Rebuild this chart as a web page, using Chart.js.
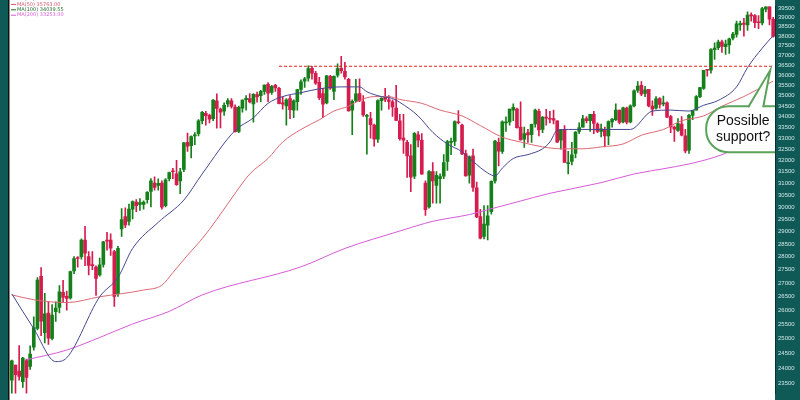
<!DOCTYPE html>
<html>
<head>
<meta charset="utf-8">
<script src="https://cdn.jsdelivr.net/npm/chart.js@4.4.1/dist/chart.umd.min.js"></script>
<style>
  html, body { margin: 0; padding: 0; background: #fff; }
  #wrap { width: 800px; height: 400px; position: relative; }
</style>
</head>
<body>
<div id="wrap"><canvas id="mainChart"></canvas></div>
<script>
// weekly candles (first week starting 2020-04-13)
const firstWeek = '2020-04-13';

const opens = [
  23600,24100,23900,23550,24250,24050,24700,25350,27250,25200,
  25900,25000,25950,26100,26650,26500,26450,27450,27950,28000,
  28650,28000,27700,27600,27300,27700,28650,28650,28200,26600,
  29100,29600,29400,29900,30200,30100,30100,30300,30650,31000,
  30900,31000,30050,31200,31500,31400,31100,31600,32800,32650,
  33100,33200,33800,34150,34050,33900,34750,34350,34250,34600,
  34750,34450,33300,34400,34800,34850,34600,35050,35000,35200,
  35550,35150,35500,35350,34650,34500,34850,34300,34700,35300,
  35700,35850,36350,36100,35650,35100,34650,35950,35200,36000,
  36350,36200,35800,34300,34750,35100,34700,34000,33900,33600,
  32950,34750,34900,34800,34700,34400,33800,33000,32800,32200,
  31300,33150,32900,31000,30000,31500,30900,31200,31300,31950,
  32800,32850,33750,33600,32300,31350,32200,30800,29600,28800,
  29250,29800,31100,32800,32400,33700,33750,34300,34350,33500,
  32950,33250,33150,33650,34250,33400,33950,33900,33900,33800,
  32900,33400,31850,31950,32300,33300,33500,33900,33800,34100,
  33650,33300,33400,33100,33750,33850,34300,33750,34400,33750,
  34500,35250,35500,35100,35300,34500,34400,34850,34600,34650,
  34000,33500,33350,33650,33100,32450,34050,34300,34950,35350,
  36250,36250,37300,37400,37700,37450,37550,37900,38100,38600,
  38700,38600,39100,39100,38750,38700,39450,39800,38900
];
const highs = [
  24265,24100,24760,24360,24300,24750,25760,27200,27580,26610,
  26300,26200,26300,26900,27100,26700,27450,28000,28000,28700,
  29200,28200,28200,27650,27950,28600,28960,28900,28250,28400,
  29930,29960,30120,30250,30300,30350,30250,30640,31200,31270,
  31190,31100,31200,31480,31640,32000,31650,32800,33230,33100,
  33250,33850,34250,34250,34120,34810,35090,34400,34650,34850,
  34850,34550,34500,34800,35000,35100,35100,35170,35250,35530,
  35630,35500,35550,35400,34950,34850,35000,34800,35300,35770,
  35900,36470,36450,36200,35900,35350,36000,36000,35970,36570,
  36950,36650,35850,34800,35800,35820,35000,34100,34200,33650,
  34800,34900,35350,35000,34800,35500,34100,34100,32900,32700,
  33250,33300,33200,31100,31550,31900,31500,31400,32250,32900,
  33000,33800,34280,33650,32450,32200,32500,31050,29900,30050,
  30050,31100,32900,33000,33800,33990,34350,34600,34400,34700,
  33500,33400,33650,34350,34350,34000,34340,34250,34300,33800,
  33400,33570,32400,32800,33300,33700,34050,34000,34100,34250,
  33700,33650,33500,33800,33900,34600,34300,34450,34450,34550,
  35280,35680,35680,35450,35300,34750,34950,34900,34980,34700,
  34050,33550,33900,34000,33400,34100,34300,35000,35400,36250,
  36300,37350,37650,37800,37800,37800,37900,38200,38800,38800,
  38950,39300,39250,39150,39100,39550,39900,39800,39000
];
const lows = [
  23100,23000,23600,23360,22790,23950,24600,25300,25100,24850,
  24800,24950,25600,25900,26300,26000,26400,27350,27600,27900,
  27650,27300,27500,26540,27250,27600,28250,28050,26140,26500,
  28800,29150,29250,29500,29800,29850,29900,30150,30000,30700,
  30700,29900,30000,31100,31200,30900,30550,31500,32400,32100,
  32700,33100,33650,33600,33700,33800,33450,33470,34050,34450,
  34400,33270,33250,34200,34300,34650,33740,34680,34700,35050,
  34700,35050,35200,34600,34350,33600,33900,33950,34300,35050,
  35400,35700,35800,35550,34800,33950,34600,35300,34800,35900,
  36100,35800,34250,33150,34700,34700,34000,32270,33000,32630,
  32800,34300,34700,34350,34000,33800,32900,32300,31250,30640,
  31200,32600,31390,29650,29950,30150,30150,30150,31200,31550,
  32250,32650,33650,32250,31300,31000,30650,29550,28700,28700,
  28660,29700,31000,31750,32300,33300,33600,33800,33450,32900,
  32570,32800,32800,33500,33100,33250,33600,33700,33650,32800,
  32500,31900,31400,31800,32100,33200,33500,33700,33300,33200,
  33250,33050,32600,32700,33500,33800,33650,33700,33650,33700,
  34450,35150,35000,34950,34450,34050,34350,34400,34500,33950,
  33250,32850,33300,33100,32330,32300,33850,34300,34900,35300,
  35950,36100,36800,37300,37150,37050,37100,37800,37950,38300,
  38000,38300,38800,38450,38400,38600,39300,38600,37950
];
const closes = [
  24242,23775,23724,24331,23685,24465,25383,27111,25605,25871,
  25016,25827,26075,26672,26470,26428,27433,27931,27930,28654,
  28133,27666,27657,27174,27683,28586,28606,28335,26502,28323,
  29479,29263,29910,30218,30046,30179,30199,30606,31098,30814,
  30997,29983,31148,31458,31494,30932,31496,32779,32628,33073,
  33153,33801,34200,34043,33875,34778,34382,34208,34529,34756,
  34480,33290,34433,34786,34870,34688,35062,34935,35209,35515,
  35120,35456,35369,34608,34584,34798,34326,34746,35295,35677,
  35820,36328,36100,35602,34899,34580,35971,35365,35951,36338,
  36232,35912,34265,34725,35089,34738,34079,34059,33615,32944,
  34755,34861,34818,34721,34451,33811,32977,32899,32197,31262,
  33213,32900,31393,29888,31500,31097,31338,31288,31899,32845,
  32803,33761,33706,32283,31318,32152,30822,29590,28725,29297,
  29635,31083,32861,32403,33748,33746,34347,34430,33477,32920,
  33204,33147,33631,34303,33375,33978,33926,33870,33827,32817,
  33391,31910,31862,32238,33274,33485,33886,33809,34098,33674,
  33300,33427,33093,33763,33877,34299,33727,34408,33735,34509,
  35228,35459,35066,35281,34501,34347,34838,34577,34618,33964,
  33508,33408,33670,33127,32418,34061,34283,34947,35390,36246,
  36248,37306,37385,37690,37466,37593,37863,38109,38654,38672,
  38628,39131,39087,38723,38715,39476,39807,38904,37983
];

// moving averages (week index -> value)
const ma20Week = [0,6,12,15,24,29,33,40,47,52,61,66,70,74,79,84,90,95,97,101,104,106,111,115,119,123,126,130,132,134,137,141,145,147,149,152,156,161,169,175,180,185,189,193,198,201,205,208];
const ma20 = [26593,25341,24213,24343,26487,27206,28322,29365,30284,31399,33351,33937,34626,34952,35140,35329,35424,35424,35187,34952,34859,34672,34028,33262,32731,32382,31951,31442,31315,31653,32080,32252,32513,32819,33351,33396,33396,33396,33396,34257,34303,34257,34533,34766,35424,36385,37374,38030];

const ma50Week = [0,6,15,24,36,41,44,48,52,56,61,65,70,74,79,84,88,92,95,99,103,106,112,117,123,128,134,139,145,150,156,161,167,172,178,183,189,194,200,205,208];
const ma50 = [26558,26380,26275,26487,26736,26916,27389,28058,28704,29484,30569,31399,32080,32819,33396,33846,34257,34487,34766,34952,34952,34812,34626,34303,34028,33575,33040,32819,32600,32513,32513,32600,32731,33128,33396,33801,34028,34487,34952,35424,35710];

const ma200Week = [4,15,24,33,43,52,79,91,106,115,125,130,138,147,161,170,179,188,196,202,208];
const ma200 = [24275,24603,25035,25509,25957,26555,27610,28322,29013,29405,29682,29881,30203,30569,31023,31399,31653,31951,32382,32951,33262];

// legend values shown top left
const maNames = ['MA(20) 38108.45', 'MA(50) 35763.00', 'MA(100) 34039.55', 'MA(200) 33253.00'];
const maColors = ['#3d3f8f', '#d8566a', '#1f6b2a', '#d85bd8'];

// horizontal level and axis
const resistanceLevel = 36450;
const resistanceFrom = 73;
const yTicks = [23500,24000,24500,25000,25500,26000,26500,27000,27500,28000,28500,29000,29500,30000,30500,31000,31500,32000,32500,33000,33500,34000,34500,35000,35500,36000,36500,37000,37500,38000,38500,39000,39500];
const yMin = 23170;
const yMax = 39590;

const upColor = '#15801a';
const downColor = '#d61c4e';
const teal = '#0f5a57';

// 라벨 (주 단위 날짜)
const labels = opens.map((_, i) => {
    const d = new Date(firstWeek + 'T00:00:00Z');
    d.setUTCDate(d.getUTCDate() + i * 7);
    return d.toISOString().slice(0, 10);
});

const candleColors = opens.map((o, i) => closes[i] >= o ? upColor : downColor);
// 카테고리 축이므로 x 는 라벨 문자열로 넘김
const toPoints = (idx, vals) => idx.map((w, i) => ({ x: labels[w], y: vals[i] }));

// 배경, 축 띠, 말풍선
const decorPlugin = {
    id: 'decor',
    beforeDraw(chart) {
        const { ctx, chartArea, width, height } = chart;
        ctx.save();
        ctx.fillStyle = '#ffffff';
        ctx.fillRect(0, 0, width, height);
        ctx.fillStyle = teal;
        ctx.fillRect(chartArea.right, 0, width - chartArea.right, height);
        ctx.fillRect(0, 0, 8, height);
        ctx.fillStyle = '#111';
        ctx.fillRect(8, 0, 1.5, height);
        ctx.restore();
    },
    afterDatasetsDraw(chart) {
        const { ctx, chartArea, scales } = chart;
        const tipX = scales.x.getPixelForValue(opens.length - 1) - 3;
        const tipY = scales.y.getPixelForValue(resistanceLevel) + 4;

        ctx.save();
        ctx.beginPath();
        ctx.rect(chartArea.left, chartArea.top, chartArea.right - chartArea.left, chartArea.bottom - chartArea.top);
        ctx.clip();

        const bx = tipX - 64, by = tipY + 36, bw = 90, bh = 46;
        ctx.lineWidth = 2;
        ctx.strokeStyle = '#5aa35a';
        ctx.fillStyle = '#ffffff';
        ctx.beginPath();
        ctx.roundRect(bx, by, bw, bh, 22);
        ctx.fill();
        ctx.stroke();

        // tail
        const b1 = tipX - 22, b2 = tipX - 7;
        ctx.beginPath();
        ctx.moveTo(b1, by + 3);
        ctx.lineTo(tipX, tipY);
        ctx.lineTo(b2, by + 3);
        ctx.closePath();
        ctx.fill();
        ctx.beginPath();
        ctx.moveTo(b1, by + 1);
        ctx.lineTo(tipX, tipY);
        ctx.lineTo(b2, by + 1);
        ctx.stroke();

        ctx.fillStyle = '#111';
        ctx.font = '14px "Liberation Sans", Arial, sans-serif';
        ctx.textAlign = 'center';
        ctx.textBaseline = 'middle';
        ctx.fillText('Possible', bx + 37, by + 15);
        ctx.fillText('support?', bx + 37, by + 31);
        ctx.restore();

        // MA legend
        ctx.save();
        ctx.font = '5px "DejaVu Sans", sans-serif';
        ctx.textBaseline = 'middle';
        maNames.forEach((name, i) => {
            const y = -1 + i * 5.4;
            ctx.fillStyle = maColors[i];
            ctx.fillRect(11, y - 0.5, 5, 1);
            ctx.fillText(name, 17, y);
        });
        ctx.restore();
    }
};

const ctx = document.getElementById('mainChart').getContext('2d');
new Chart(ctx, {
    type: 'bar',
    data: {
        labels: labels,
        datasets: [
            {
                type: 'line', label: 'MA(20)', data: toPoints(ma20Week, ma20),
                borderColor: '#45478f', borderWidth: 1, pointRadius: 0,
                cubicInterpolationMode: 'monotone', order: 0
            },
            {
                type: 'line', label: 'MA(50)', data: toPoints(ma50Week, ma50),
                borderColor: '#dc6a74', borderWidth: 1, pointRadius: 0,
                cubicInterpolationMode: 'monotone', order: 0
            },
            {
                type: 'line', label: 'MA(200)', data: toPoints(ma200Week, ma200),
                borderColor: maColors[3], borderWidth: 1, pointRadius: 0,
                cubicInterpolationMode: 'monotone', order: 0
            },
            {
                type: 'line', label: 'level',
                data: [{ x: labels[resistanceFrom], y: resistanceLevel }, { x: labels[opens.length - 1], y: resistanceLevel }],
                borderColor: '#e0201c', borderWidth: 1, borderDash: [3, 2], pointRadius: 0, order: 0
            },
            {
                label: 'body', data: opens.map((o, i) => [o, closes[i]]),
                backgroundColor: candleColors, barThickness: 3, minBarLength: 1,
                grouped: false, order: 1
            },
            {
                label: 'wick', data: lows.map((l, i) => [l, highs[i]]),
                backgroundColor: candleColors, barThickness: 1,
                grouped: false, order: 2
            }
        ]
    },
    options: {
        responsive: true,
        maintainAspectRatio: false,
        animation: false,
        layout: { padding: { left: 10, right: 0, top: 0, bottom: 0 } },
        plugins: { legend: { display: false }, tooltip: { enabled: false } },
        scales: {
            x: { display: false, offset: true },
            y: {
                type: 'logarithmic', position: 'right', min: yMin, max: yMax,
                grid: { display: false, drawTicks: false },
                border: { display: true, color: '#063331' },
                ticks: {
                    color: '#cfe7e4', font: { size: 6 }, padding: 3, autoSkip: false,
                    callback: v => String(v)
                },
                afterBuildTicks: s => { s.ticks = yTicks.map(v => ({ value: v })); },
                afterFit: s => { s.width = 25; }
            }
        }
    },
    plugins: [decorPlugin]
});
</script>
</body>
</html>
